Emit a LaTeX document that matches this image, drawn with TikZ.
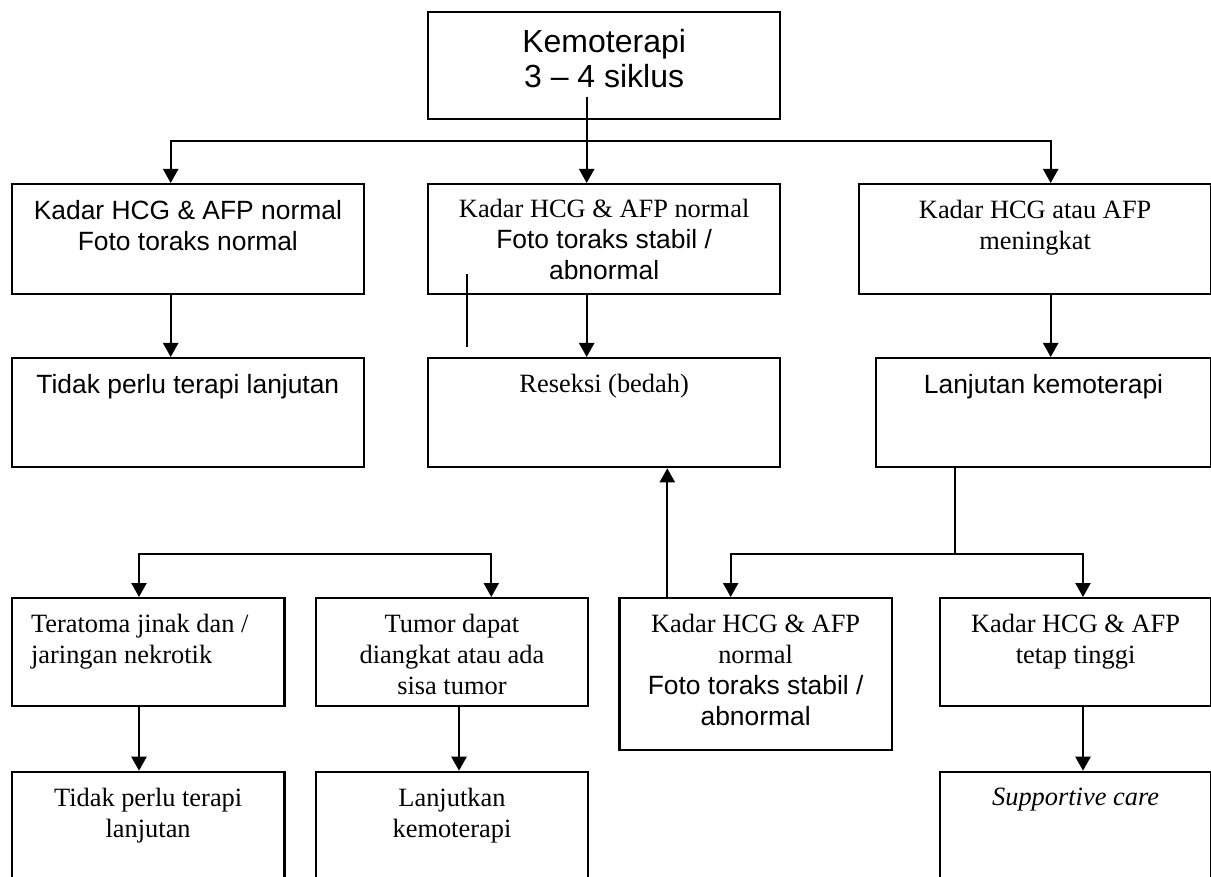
\documentclass[tikz,border=0pt]{standalone}
\usepackage{fontspec}
\setmainfont{Liberation Serif}
\setsansfont{Liberation Sans}
\usepackage{tikz}
\usetikzlibrary{
  arrows.meta,
  positioning,
  calc
}

\begin{document}
\begin{tikzpicture}[x=0.5pt,y=-0.5pt,
  box/.style={draw,line width=1.15pt,inner sep=0pt,anchor=north west},
  txt/.style={font=\rmfamily\fontsize{13.2}{15.5}\selectfont,align=center,inner sep=0pt,anchor=north},
  stxt/.style={txt,font=\sffamily\fontsize{13.2}{15.5}\selectfont},
  ln/.style={line width=1.15pt},
  arr/.style={line width=1.15pt,-{Triangle[length=7pt,width=7.5pt]}}]
  \useasboundingbox (0,0) rectangle (1211,877);
  \clip (0,0) rectangle (1211,877);
  % top box
  \node[box,minimum width=176pt,minimum height=53.5pt] (kemo) at (427,11) {};
  \node[stxt,font=\sffamily\fontsize{16}{17.5}\selectfont] (kemo-t) at ($(kemo.north)+(0,18)$) {Kemoterapi\\3 – 4 siklus};
  % first row
  \node[box,minimum width=176pt,minimum height=55pt] (normal) at (10.7,183) {};
  \node[stxt] (normal-t) at ($(normal.north)+(0,17)$) {Kadar HCG \& AFP normal\\Foto toraks normal};
  \node[box,minimum width=176pt,minimum height=55pt] (stabil) at (427,183) {};
  \node[txt] (stabil-t) at ($(stabil.north)+(0,16)$) {Kadar HCG \& AFP normal\\{\sffamily Foto toraks stabil /}\\{\sffamily abnormal}};
  \node[box,minimum width=176pt,minimum height=55pt] (naik) at (858,183) {};
  \node[txt] (naik-t) at ($(naik.north)+(0,17)$) {Kadar HCG atau AFP\\meningkat};
  % second row
  \node[box,minimum width=176pt,minimum height=54.5pt] (stop) at (10.7,357) {};
  \node[stxt] (stop-t) at ($(stop.north)+(0,17)$) {Tidak perlu terapi lanjutan};
  \node[box,minimum width=176pt,minimum height=54.5pt] (reseksi) at (427,357) {};
  \node[txt] (reseksi-t) at ($(reseksi.north)+(0,17)$) {Reseksi (bedah)};
  \node[box,minimum width=167.7pt,minimum height=54.5pt] (lanjut) at (874.7,357) {};
  \node[stxt] (lanjut-t) at ($(lanjut.north)+(0,17)$) {Lanjutan kemoterapi};
  % third row
  \node[box,minimum width=136.3pt,minimum height=54pt] (teratoma) at (10.7,597) {};
  \node[txt,align=left,anchor=north west] (teratoma-t) at ($(teratoma.north west)+(20,17)$) {Teratoma jinak dan /\\jaringan nekrotik};
  \node[box,minimum width=135.8pt,minimum height=54pt] (sisa) at (315,597) {};
  \node[txt] (sisa-t) at ($(sisa.north)+(0,17)$) {Tumor dapat\\diangkat atau ada\\sisa tumor};
  \node[box,minimum width=136.2pt,minimum height=76pt] (stabil2) at (618.3,597) {};
  \node[txt] (stabil2-t) at ($(stabil2.north)+(0,17)$) {Kadar HCG \& AFP\\normal\\{\sffamily Foto toraks stabil /}\\{\sffamily abnormal}};
  \node[box,minimum width=135.7pt,minimum height=54pt] (tinggi) at (938.7,597) {};
  \node[txt] (tinggi-t) at ($(tinggi.north)+(0,17)$) {Kadar HCG \& AFP\\tetap tinggi};
  % last row (cut off at the bottom)
  \node[box,minimum width=136.3pt,minimum height=62pt] (stop2) at (10.7,770.7) {};
  \node[txt] (stop2-t) at ($(stop2.north)+(0,17)$) {Tidak perlu terapi\\lanjutan};
  \node[box,minimum width=135.8pt,minimum height=62pt] (kemo2) at (315,770.7) {};
  \node[txt] (kemo2-t) at ($(kemo2.north)+(0,17)$) {Lanjutkan\\kemoterapi};
  \node[box,minimum width=135.7pt,minimum height=62pt] (suportif) at (938.7,770.7) {};
  \node[txt] (suportif-t) at ($(suportif.north)+(0,17)$) {\textit{Supportive care}};
  % connectors from the top
  \coordinate (kol1) at (170.7,140.7);
  \coordinate (kol2) at (586.7,140.7);
  \coordinate (kol3) at (1050.7,140.7);
  \coordinate (kemostem) at (586.7,97);
  \draw[arr] (kemostem) -- (kemostem |- stabil.north);
  \draw[arr] (kol2) -| (normal.north -| kol1);
  \draw[arr] (kol2) -| (naik.north -| kol3);
  \draw[arr] (normal.south -| kol1) -- (stop.north -| kol1);
  \draw[arr] (stabil.south -| kol2) -- (reseksi.north -| kol2);
  \draw[arr] (naik.south -| kol3) -- (lanjut.north -| kol3);
  \draw[ln] (466.7,274) -- (466.7,347);
  % right branch
  \coordinate (cab) at (954.7,553.7);
  \coordinate (cab1) at (730.7,553.7);
  \coordinate (cab2) at (1083,553.7);
  \draw[ln] (lanjut.south -| cab) -- (cab);
  \draw[arr] (cab) -| (stabil2.north -| cab1);
  \draw[arr] (cab) -| (tinggi.north -| cab2);
  \draw[arr] (tinggi.south -| cab2) -- (suportif.north -| cab2);
  \coordinate (kol5) at (667.3,0);
  \draw[arr] (stabil2.north -| kol5) -- (reseksi.south -| kol5);
  % left branch
  \coordinate (bel1) at (139,553.7);
  \coordinate (bel2) at (491.3,553.7);
  \draw[arr] (bel2) -| (teratoma.north -| bel1);
  \draw[arr] (bel1) -| (sisa.north -| bel2);
  \draw[arr] (teratoma.south -| bel1) -- (stop2.north -| bel1);
  \coordinate (kol4) at (459,0);
  \draw[arr] (sisa.south -| kol4) -- (kemo2.north -| kol4);
\end{tikzpicture}
\end{document}
